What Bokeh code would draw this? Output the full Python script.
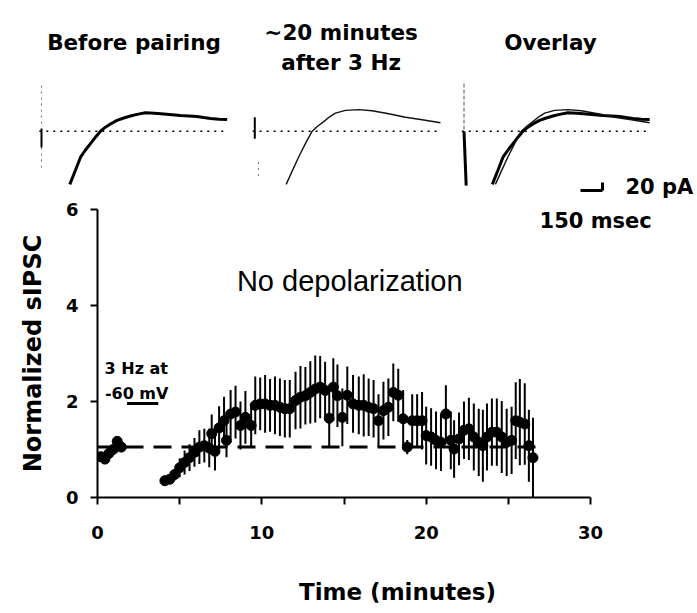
from bokeh.plotting import figure
from bokeh.layouts import column
from bokeh.models import Range1d, FixedTicker, Label, ColumnDataSource
from bokeh.embed import file_html
from bokeh.resources import INLINE

# ---------------- data ----------------
# Main time course (minutes, normalized sIPSC)
time_before = [0.2, 0.45, 0.7, 0.95, 1.2, 1.45]
sipsc_before = [0.85, 0.80, 0.92, 1.00, 1.17, 1.05]
err_before = [0.04, 0.04, 0.05, 0.05, 0.06, 0.05]

time_after = [4.1, 4.4, 4.7, 5.0, 5.3, 5.6, 5.9, 6.2, 6.5, 6.8,
              6.95, 7.15, 7.4, 7.7, 7.85, 8.1, 8.4, 8.7, 9.0, 9.35,
              9.6, 9.9, 10.2, 10.5, 10.8, 11.1, 11.4, 11.7, 12.05, 12.35,
              12.65, 12.95, 13.25, 13.55, 13.85, 14.1, 14.35, 14.6, 14.9, 15.2,
              15.55, 15.9, 16.2, 16.5, 16.8, 17.1, 17.4, 17.7, 18.0, 18.3,
              18.6, 18.85, 19.15, 19.45, 19.75, 20.0, 20.3, 20.6, 20.9, 21.2,
              21.5, 21.7, 22.0, 22.3, 22.6, 22.9, 23.2, 23.45, 23.7, 24.0,
              24.3, 24.6, 24.9, 25.2, 25.45, 25.7, 26.0, 26.25, 26.5]
sipsc_after = [0.35, 0.38, 0.48, 0.62, 0.73, 0.83, 0.94, 1.05, 1.08, 1.03,
               1.33, 0.96, 1.45, 1.60, 1.19, 1.74, 1.78, 1.50, 1.67, 1.50,
               1.92, 1.95, 1.95, 1.92, 1.92, 1.88, 1.85, 1.85, 2.02, 2.09,
               2.12, 2.19, 2.26, 2.30, 2.23, 1.65, 2.30, 2.12, 1.67, 2.13,
               1.95, 1.92, 1.92, 1.88, 1.85, 1.60, 1.81, 1.88, 2.19, 2.13,
               1.64, 1.05, 1.60, 1.60, 1.60, 1.29, 1.26, 1.19, 1.15, 1.74,
               1.19, 1.01, 1.22, 1.40, 1.43, 1.26, 1.15, 1.08, 1.26, 1.36,
               1.36, 1.26, 1.15, 1.19, 1.60, 1.57, 1.53, 1.08, 0.83]
err_after = [0.05, 0.08, 0.12, 0.20, 0.25, 0.28, 0.30, 0.35, 0.35, 0.40,
             0.40, 0.40, 0.45, 0.50, 0.35, 0.50, 0.55, 0.50, 0.55, 0.45,
             0.60, 0.55, 0.60, 0.55, 0.60, 0.60, 0.60, 0.60, 0.60, 0.65,
             0.60, 0.65, 0.70, 0.65, 0.60, 0.60, 0.60, 0.65, 0.60, 0.60,
             0.60, 0.60, 0.65, 0.60, 0.60, 0.55, 0.60, 0.60, 0.60, 0.55,
             0.60, 0.15, 0.55, 0.55, 0.60, 0.60, 0.60, 0.60, 0.60, 0.60,
             0.60, 0.60, 0.55, 0.60, 0.65, 0.70, 0.70, 0.75, 0.70, 0.70,
             0.70, 0.75, 0.70, 0.70, 0.80, 0.90, 0.85, 0.75, 0.83]

baseline_time = [0.0, 26.9]
baseline_level = [1.05, 1.05]

pairing_time = [1.8, 3.7]      # 3 Hz at -60 mV
pairing_level = [1.96, 1.96]

x_ticks = [0, 5, 10, 15, 20, 25, 30]
x_tick_labels = {5: "", 15: "", 25: ""}
y_ticks = [0, 2, 4, 6]

# Averaged sIPSC traces (ms after stimulus, pA relative to baseline)
before_t = [193, 230, 266, 300, 334, 368, 402, 436, 470, 515, 561, 606,
            652, 709, 770, 834, 890, 947, 1004, 1061, 1106, 1152, 1210, 1266]
before_i = [-133, -99, -65, -47, -31, -15, 0, 10, 18, 27, 33, 38,
            42, 46, 45, 43, 41, 39, 38, 37, 34, 32, 30, 29]
after_t = [214, 257, 300, 345, 391, 430, 470, 510, 550, 618, 709, 800,
           913, 1027, 1141, 1266]
after_i = [-133, -98, -64, -31, 0, 13, 24, 36, 45, 52, 54, 51,
           43.5, 35, 28.5, 21]
trace_baseline_t = [-15, 1265]
trace_baseline_i = [0, 0]

scale_ms = 150
scale_pa = 20

BOLD = "DejaVu Sans"

# ---------------- top: traces ----------------
W = 697
TOP_H = 200
PX_PER_MS = 22.0 / 150.0
PX_PER_PA = 8.0 / 20.0
BASE_PX = 130.7


def tx(px):
    return px / PX_PER_MS


def ty(py):
    return (BASE_PX - py) / PX_PER_PA


top = figure(width=W, height=TOP_H, output_backend="svg", toolbar_location=None,
             x_range=Range1d(0, W / PX_PER_MS),
             y_range=Range1d(ty(TOP_H), ty(0)),
             x_axis_type=None, y_axis_type=None, min_border=0,
             outline_line_color=None, background_fill_color="white",
             border_fill_color="white")
top.frame_align = False

offsets = [tx(41), tx(254.3), tx(463.5)]

# baselines
for off in offsets:
    top.line([off + t for t in trace_baseline_t], trace_baseline_i,
             line_color="black", line_width=1.5, line_dash="2 5")

# panel 1: before pairing
o1 = offsets[0]
top.line([o1, o1], [114, 14], line_color="#777777", line_width=1, line_dash="2 4")
top.line([o1, o1], [-41, -93], line_color="#777777", line_width=1, line_dash="2 4")
top.line([o1, o1], [7, -41], line_color="black", line_width=2)
top.line([o1 + t for t in before_t], before_i, line_color="black", line_width=3)

# panel 2: ~20 min after 3 Hz
o2 = offsets[1]
top.line([o2, o2], [35, -19], line_color="black", line_width=2)
top.line([o2 + 25, o2 + 25], [-77, -115], line_color="#777777", line_width=1, line_dash="2 4")
top.line([o2 + t for t in after_t], after_i, line_color="#111111", line_width=1.4)

# panel 3: overlay
o3 = offsets[2]
top.line([o3, o3], [119, 0], line_color="#555555", line_width=1, line_dash="4 2")
top.line([o3, o3 + 15], [0, -136], line_color="black", line_width=3)
top.line([o3 + t for t in before_t], before_i, line_color="black", line_width=3)
top.line([o3 + t for t in after_t], after_i, line_color="#111111", line_width=1.4)

# scale bar
sb_x0 = tx(580)
sb_y0 = ty(190)
top.line([sb_x0, sb_x0 + scale_ms], [sb_y0, sb_y0], line_color="black", line_width=3)
top.line([sb_x0 + scale_ms, sb_x0 + scale_ms], [sb_y0, sb_y0 + scale_pa],
         line_color="black", line_width=3)


def top_label(text, px, py, align="center", size="21.5px"):
    top.add_layout(Label(x=tx(px), y=ty(py), text=text, text_align=align,
                         text_baseline="alphabetic", text_font=BOLD,
                         text_font_style="bold", text_font_size=size,
                         text_color="black"))


top_label("Before pairing", 133.5, 42)
top_label("~20 minutes", 340.6, 31.7)
top_label("after 3 Hz", 340.6, 61.7)
top_label("Overlay", 550, 42)
top_label("20 pA", 625, 186, align="left", size="21px")

# ---------------- bottom: time course ----------------
BOT_H = 613 - TOP_H
PX_PER_MIN = 493.0 / 30.0
p = figure(width=W, height=BOT_H, output_backend="svg", toolbar_location=None,
           x_range=Range1d(0, (W - 97) / PX_PER_MIN), y_range=Range1d(0, 6),
           min_border_left=97, min_border_right=0,
           min_border_top=9, min_border_bottom=116,
           outline_line_color=None, background_fill_color="white",
           border_fill_color="white")
p.frame_align = False
p.grid.visible = False

p.xaxis.ticker = FixedTicker(ticks=x_ticks)
p.xaxis.major_label_overrides = x_tick_labels
p.xaxis.bounds = (0, 30)
p.yaxis.ticker = FixedTicker(ticks=y_ticks)
for ax in (p.xaxis, p.yaxis):
    ax.axis_line_width = 2
    ax.axis_line_color = "black"
    ax.major_tick_line_width = 2
    ax.major_tick_line_color = "black"
    ax.major_tick_out = 7
    ax.major_tick_in = 0
    ax.minor_tick_line_color = None
    ax.major_label_text_font = BOLD
    ax.major_label_text_font_style = "bold"
    ax.major_label_text_font_size = "18px"
    ax.major_label_text_color = "black"
    ax.axis_label_text_font = BOLD
    ax.axis_label_text_font_style = "bold"
    ax.axis_label_text_color = "black"

p.xaxis.major_label_standoff = 21
p.yaxis.major_label_standoff = 12
p.xaxis.axis_label = "Time (minutes)"
p.xaxis.axis_label_text_font_size = "23px"
p.xaxis.axis_label_standoff = 37
p.yaxis.axis_label = "Normalized sIPSC"
p.yaxis.axis_label_text_font_size = "24px"
p.yaxis.axis_label_standoff = 16

p.line(baseline_time, baseline_level, line_color="black", line_width=3, line_dash="18 10")
p.line(pairing_time, pairing_level, line_color="black", line_width=3)

for ts, vs, es in ((time_before, sipsc_before, err_before),
                   (time_after, sipsc_after, err_after)):
    src = ColumnDataSource(dict(t=ts, v=vs,
                                lo=[v - e for v, e in zip(vs, es)],
                                hi=[v + e for v, e in zip(vs, es)]))
    p.segment(x0="t", y0="lo", x1="t", y1="hi", source=src,
              line_color="black", line_width=2)
    p.scatter(x="t", y="v", source=src, marker="circle", size=10,
              fill_color="black", line_color="black")


def bot_label(text, x, y, align="left", size="16px", bold=True, font=BOLD):
    p.add_layout(Label(x=x, y=y, text=text, text_align=align,
                       text_baseline="alphabetic", text_font=font,
                       text_font_style="bold" if bold else "normal",
                       text_font_size=size, text_color="black"))


bot_label("No depolarization", 15.35, 4.52, align="center", size="29px",
          bold=False, font="Liberation Sans")
bot_label("3 Hz at", 0.43, 2.68)
bot_label("-60 mV", 0.45, 2.16)
bot_label("150 msec", 26.9, 5.77, size="21px")

layout = column(top, p, spacing=0)
open("out.html", "w").write(file_html(layout, INLINE))
